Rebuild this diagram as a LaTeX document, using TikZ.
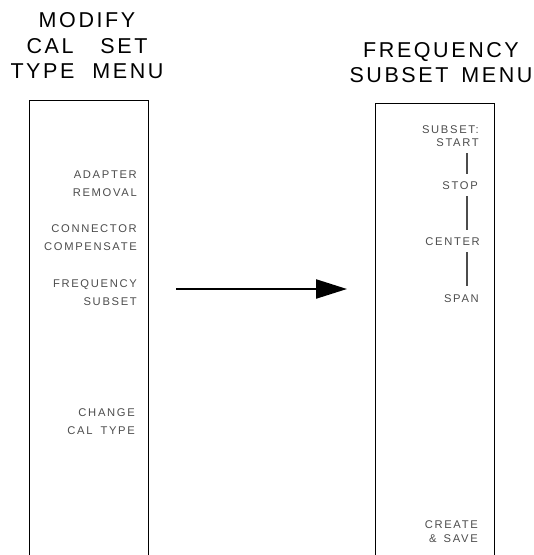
\documentclass[tikz,border=0pt]{standalone}
\usepackage{fontspec}
\setmainfont{Liberation Sans}
\newfontfamily\titlefont[LetterSpace=12]{Liberation Sans}
\newfontfamily\keyfont[LetterSpace=15]{Liberation Sans}
\usetikzlibrary{arrows.meta}
\begin{document}
\begin{tikzpicture}[
  x=1pt, y=-1pt,
  menutitle/.style={align=center, inner sep=0pt, font=\titlefont\fontsize{21.5}{25.3}\selectfont},
  menu/.style={minimum width=118pt, inner sep=0pt},
  menuframe/.style={line width=1.3pt},
  softkey/.style={anchor=east, align=right, inner sep=0pt, text=black!70, font=\keyfont\fontsize{11.2}{18}\selectfont},
  tightkey/.style={softkey, font=\keyfont\fontsize{11.2}{13.5}\selectfont},
  keyline/.style={draw=black!70, line width=1.3pt, shorten <=6.5pt, shorten >=8pt},
  bigarrow/.style={line width=2.3pt, -{Triangle[length=31pt, width=19pt]}}
]
\useasboundingbox (0,0) rectangle (534,555);
\node[menutitle] (caltitle) at (87,45.75) {MODIFY\\CAL\hspace{27pt}SET\\TYPE\hspace{18pt}MENU};
\node[menutitle] (subsettitle) at (441,62.75) {FREQUENCY\\SUBSET\hspace{13pt}MENU};
\node[menu, minimum height=454pt] (calmenu) at (89,328) {};
\node[menu, minimum height=451pt] (subsetmenu) at (435,329.5) {};
\draw[menuframe] (calmenu.south west) -- (calmenu.north west) -- (calmenu.north east) -- (calmenu.south east);
\draw[menuframe] (subsetmenu.south west) -- (subsetmenu.north west) -- (subsetmenu.north east) -- (subsetmenu.south east);
\node[softkey] (adapter) at (137,183.3) {ADAPTER\\REMOVAL};
\node[softkey] (connector) at (137,238) {CONNECTOR\\COMPENSATE};
\node[softkey] (freq) at (137,293) {FREQUENCY\\SUBSET};
\node[softkey] (caltype) at (135,421.3) {CHANGE\\CAL\hspace{8pt}TYPE};
\node[tightkey] (subsetstart) at (479,135.9) {SUBSET:\\START};
\node[softkey] (stopkey) at (478,185.7) {STOP};
\node[softkey] (centerkey) at (480,241.7) {CENTER};
\node[softkey] (spankey) at (479,298.3) {SPAN};
\node[tightkey] (createkey) at (478,531.7) {CREATE\\\&\hspace{7pt}SAVE};
\coordinate (spine) at (467,0);
\foreach \a/\b in {subsetstart/stopkey, stopkey/centerkey, centerkey/spankey}
  \draw[keyline] (spine |- \a.south) -- (spine |- \b.north);
\coordinate (arrowtail) at (176,289);
\coordinate (arrowtip) at (347,289);
\draw[bigarrow] (arrowtail) -- (arrowtip);
\end{tikzpicture}
\end{document}
